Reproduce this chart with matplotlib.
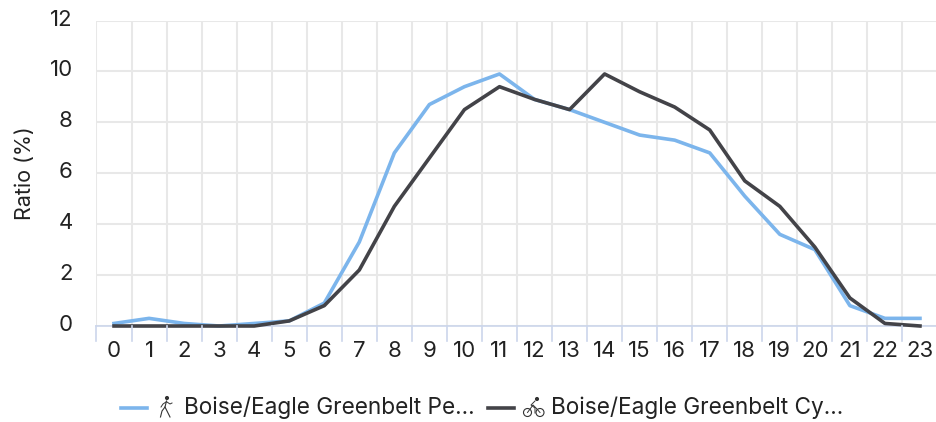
import matplotlib
matplotlib.use("Agg")
import matplotlib.pyplot as plt
from matplotlib.lines import Line2D
from matplotlib.patches import Circle
from matplotlib.transforms import ScaledTranslation

hours = list(range(24))
ped = [0.1, 0.3, 0.1, 0, 0.1, 0.2, 0.9, 3.3, 6.8, 8.7, 9.4, 9.9, 8.9, 8.5, 8.0, 7.5, 7.3, 6.8, 5.1, 3.6, 3.0, 0.8, 0.3, 0.3]
cyc = [0, 0, 0, 0, 0, 0.2, 0.8, 2.2, 4.7, 6.6, 8.5, 9.4, 8.9, 8.5, 9.9, 9.2, 8.6, 7.7, 5.7, 4.7, 3.1, 1.1, 0.1, 0]
ped_label = "Boise/Eagle Greenbelt Pe..."
cyc_label = "Boise/Eagle Greenbelt Cy..."

W, H = 937, 422
plt.rcParams['font.family'] = ['Inter', 'DejaVu Sans']
fig = plt.figure(figsize=(W / 100, H / 100), dpi=100)

# pixel helpers
def fx(px):
    return px / W
def fy(py):
    return 1 - py / H

ax = fig.add_axes([fx(96.5), fy(326), (937.5 - 96.5) / W, (326 - 20.5) / H])
ax.set_xlim(-0.5, 23.5)
ax.set_ylim(0, 12)

ax.plot(hours, ped, color="#7cb5ec", lw=2.6, clip_on=False, zorder=3, solid_joinstyle="round")
ax.plot(hours, cyc, color="#434348", lw=2.6, clip_on=False, zorder=4, solid_joinstyle="round")

ax.set_yticks(range(0, 13, 2))
ax.set_xticks(hours)
ax.set_xticklabels([str(h) for h in hours])
ax.tick_params(axis="both", length=0, labelsize=16, labelcolor="#222222")
ax.tick_params(axis="x", pad=10.5)
ax.tick_params(axis="y", pad=17)
# y labels sit a little above their gridlines
for lab in ax.get_yticklabels():
    lab.set_transform(lab.get_transform() + ScaledTranslation(0, 3 / 100, fig.dpi_scale_trans))
ax.set_axisbelow(True)
ax.grid(axis="y", color="#e8e8e8", lw=1.5)
for s in ax.spines.values():
    s.set_visible(False)
ax.spines["bottom"].set_visible(True)
ax.spines["bottom"].set_color("#ccd6eb")
ax.spines["bottom"].set_linewidth(1.2)

# vertical grid at category edges, tick stubs run below the axis
for e in range(25):
    ax.axvline(e - 0.5, color="#e8e8e8", lw=1.5, zorder=0)
    fig.add_artist(Line2D([fx(96.5 + e * 841 / 24)] * 2, [fy(326), fy(341)], color="#ccd6eb", lw=1.2))

fig.text(fx(25), fy(173), "Ratio (%)", rotation=90, ha="center", va="center", fontsize=15.5, color="#222222")

# legend, laid out by hand like the original
fig.add_artist(Line2D([fx(121), fx(147)], [fy(408)] * 2, color="#7cb5ec", lw=2.6))
fig.add_artist(Line2D([fx(488), fx(514)], [fy(408)] * 2, color="#434348", lw=2.6))
fig.text(fx(184), fy(408), ped_label, ha="left", va="center", fontsize=16.3, color="#222222")
fig.text(fx(551), fy(408), cyc_label, ha="left", va="center", fontsize=16.3, color="#222222")

def icon_line(xs, ys, lw=0.8):
    fig.add_artist(Line2D([fx(x) for x in xs], [fy(y) for y in ys], color="#333333", lw=lw))

def icon_ring(x, y, r, fill=False):
    fig.add_artist(Circle((x, H - y), r, transform=None, fill=fill, ec="#333333", fc="#333333", lw=0.8))

# walker icon
icon_ring(167, 398, 1.5, True)
icon_line([166.5, 165, 162, 160.5], [401, 407, 411, 417])
icon_line([165, 167, 170], [407, 411, 417])
icon_line([166, 163, 161], [402, 404, 407], 0.7)
icon_line([167, 170, 172], [402, 404, 403], 0.7)

# cyclist icon
icon_ring(527.5, 412.5, 4)
icon_ring(540, 412.5, 4)
icon_ring(537, 399, 1.5, True)
icon_line([527.5, 533, 536, 540], [412.5, 405, 408, 412.5], 0.7)
icon_line([535, 531, 535, 535], [401, 405, 408, 413], 0.7)

fig.savefig("out.png", dpi=100)
